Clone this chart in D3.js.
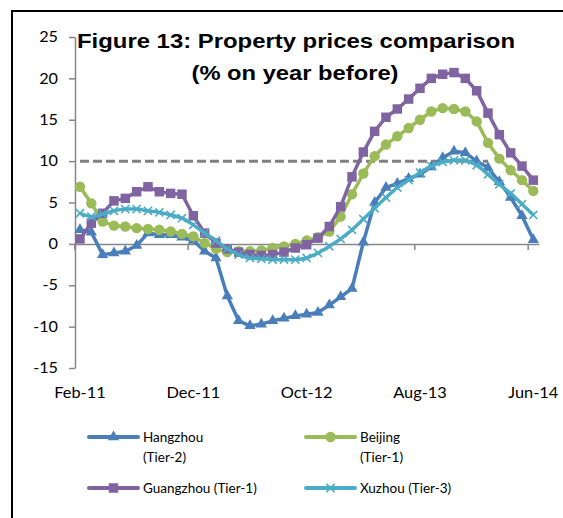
<!DOCTYPE html>
<html>
<head>
<meta charset="utf-8">
<script src="https://cdn.jsdelivr.net/npm/d3@7"></script>
<style>
  body { margin: 0; background: #fff; }
  svg { display: block; }
</style>
</head>
<body>
<div id="chart"></div>
<script>
/* Figure 13: property prices comparison, % on year before (monthly, Feb-11 .. Jun-14) */
const months = ("Feb-11 Mar-11 Apr-11 May-11 Jun-11 Jul-11 Aug-11 Sep-11 Oct-11 Nov-11 Dec-11 " +
  "Jan-12 Feb-12 Mar-12 Apr-12 May-12 Jun-12 Jul-12 Aug-12 Sep-12 Oct-12 Nov-12 Dec-12 " +
  "Jan-13 Feb-13 Mar-13 Apr-13 May-13 Jun-13 Jul-13 Aug-13 Sep-13 Oct-13 Nov-13 Dec-13 " +
  "Jan-14 Feb-14 Mar-14 Apr-14 May-14 Jun-14").split(" ");
const tickLabels = ["Feb-11", "Dec-11", "Oct-12", "Aug-13", "Jun-14"];
const yTicks = [-15, -10, -5, 0, 5, 10, 15, 20, 25];

const hangzhou = [1.7, 1.4, -1.3, -1.1, -0.9, -0.2, 1.3, 1.1, 1.1, 0.8, 0.4,
  -0.9, -1.7, -6.3, -9.3, -9.9, -9.7, -9.3, -9.0, -8.7, -8.5, -8.3, -7.4,
  -6.4, -5.4, 0.2, 5.0, 6.8, 7.3, 7.9, 8.4, 9.3, 10.4, 11.2, 11.0,
  10.0, 9.2, 7.5, 5.6, 3.4, 0.5];
const beijing = [6.9, 4.9, 2.7, 2.2, 2.1, 1.9, 1.8, 1.7, 1.5, 1.2, 0.9,
  0.1, -0.6, -1.0, -0.9, -0.9, -0.8, -0.5, -0.3, 0.0, 0.4, 0.8, 1.5,
  3.3, 6.0, 8.5, 10.6, 12.0, 13.0, 14.0, 15.0, 16.0, 16.4, 16.3, 16.0,
  14.8, 12.2, 10.3, 8.9, 7.7, 6.4];
const guangzhou = [0.6, 2.5, 3.7, 5.2, 5.5, 6.3, 6.9, 6.3, 6.1, 6.0, 3.4,
  1.3, 0.1, -0.6, -1.0, -1.3, -1.4, -1.3, -1.0, -0.5, -0.1, 0.7, 2.1,
  4.5, 8.1, 11.1, 13.6, 15.3, 16.3, 17.5, 18.8, 20.0, 20.5, 20.7, 20.0,
  18.5, 15.8, 13.2, 11.0, 9.4, 7.7];
const xuzhou = [3.7, 3.3, 3.6, 4.0, 4.2, 4.2, 4.0, 3.8, 3.5, 3.1, 2.3,
  1.3, 0.4, -0.6, -1.3, -1.7, -1.8, -1.9, -1.9, -1.9, -1.7, -1.1, -0.3,
  0.6, 1.7, 3.0, 4.3, 5.6, 6.8, 7.7, 8.6, 9.4, 9.9, 10.1, 10.1,
  9.5, 8.4, 7.2, 6.1, 4.8, 3.5];
const threshold = 10;          // dashed reference line
const thresholdEnd = "Feb-14"; // last month of the dashed line

const seriesNames = ["Hangzhou\n(Tier-2)", "Beijing\n(Tier-1)", "Guangzhou (Tier-1)", "Xuzhou (Tier-3)"];

(function () {
  const W = 563, H = 518;
  const FONT = "Lato, 'Open Sans', sans-serif";
  const svg = d3.select("#chart").append("svg").attr("width", W).attr("height", H);

  // widen glyphs a bit: the source fonts run wider than the local ones
  const stretch = (sel, k) => sel.each(function () {
    const w = this.getComputedTextLength();
    d3.select(this).attr("textLength", w * k).attr("lengthAdjust", "spacingAndGlyphs");
  });

  // frame (runs off the right and bottom edges like the source)
  svg.append("rect").attr("x", 12).attr("y", 11).attr("width", 560).attr("height", 520)
    .attr("fill", "none").attr("stroke", "#000").attr("stroke-width", 2);

  const n = months.length;
  const band = d3.scaleBand().domain(months).range([74.3, 539]).paddingInner(0).paddingOuter(0);
  const xc = m => band(m) + band.bandwidth() / 2;
  const y = d3.scaleLinear().domain([-15, 25]).range([368, 37]);

  // axes
  const yAxis = svg.append("g").attr("transform", "translate(75,0)")
    .call(d3.axisLeft(y).tickValues(yTicks).tickFormat(d => String(d))
      .tickSize(6).tickSizeOuter(0).tickPadding(11));
  yAxis.select(".domain").attr("stroke", "#868686").attr("stroke-width", 1.5);
  yAxis.selectAll(".tick line").attr("stroke", "#868686").attr("stroke-width", 1.5);
  yAxis.selectAll("text").attr("font-family", FONT).attr("font-size", 14.5).attr("fill", "#000")
    .call(stretch, 1.12);

  const xEdge = d3.scaleLinear().domain([0, n]).range(band.range());
  const xAxis = svg.append("g").attr("transform", `translate(0,${y(0)})`)
    .call(d3.axisBottom(xEdge).tickValues(tickLabels.map(t => months.indexOf(t)))
      .tickSize(6).tickSizeOuter(0).tickFormat(""));
  xAxis.select(".domain").attr("stroke", "#868686").attr("stroke-width", 1.5);
  xAxis.selectAll(".tick line").attr("stroke", "#868686").attr("stroke-width", 1.5);

  svg.append("g").selectAll("text").data(tickLabels).join("text")
    .attr("x", d => xc(d)).attr("y", 398).attr("text-anchor", "middle")
    .attr("font-family", FONT).attr("font-size", 14.5).attr("fill", "#000")
    .text(d => d)
    .call(stretch, 1.13);

  // dashed 10% line
  const dashMonths = months.slice(0, months.indexOf(thresholdEnd) + 1);
  svg.append("path")
    .attr("d", d3.line().x(m => xc(m)).y(() => y(threshold))(dashMonths))
    .attr("fill", "none").attr("stroke", "#808080").attr("stroke-width", 3)
    .attr("stroke-dasharray", "9,4");

  const series = [
    { values: hangzhou, color: "#4A7EBB", sym: d3.symbolTriangle, size: 55, curve: d3.curveLinear },
    { values: beijing, color: "#9BBB59", sym: d3.symbolCircle, size: 85, curve: d3.curveLinear },
    { values: guangzhou, color: "#8064A2", sym: d3.symbolSquare, size: 90, curve: d3.curveLinear },
    { values: xuzhou, color: "#4BACC6", sym: d3.symbolX, size: 45, curve: d3.curveCatmullRom, stroke: true }
  ];

  const markerAttrs = (sel, s) => sel
    .attr("fill", s.stroke ? "none" : s.color)
    .attr("stroke", s.stroke ? s.color : "none")
    .attr("stroke-width", s.stroke ? 1.6 : 0);

  series.forEach(s => {
    const g = svg.append("g");
    g.append("path")
      .attr("d", d3.line().x((v, i) => xc(months[i])).y(v => y(v)).curve(s.curve)(s.values))
      .attr("fill", "none").attr("stroke", s.color).attr("stroke-width", 3.5)
      .attr("stroke-linejoin", "round");
    g.selectAll("path.mk").data(s.values).join("path").attr("class", "mk")
      .attr("transform", (v, i) => `translate(${xc(months[i])},${y(v)})`)
      .attr("d", d3.symbol(s.sym, s.size))
      .call(markerAttrs, s);
  });

  // title
  const title = svg.append("text").attr("text-anchor", "middle")
    .attr("font-family", "'Liberation Sans', Arial, sans-serif").attr("font-weight", "bold")
    .attr("font-size", 21).attr("fill", "#000");
  title.append("tspan").attr("x", 296).attr("y", 48).text("Figure 13: Property prices comparison")
    .attr("textLength", 438).attr("lengthAdjust", "spacingAndGlyphs");
  title.append("tspan").attr("x", 295).attr("y", 80).text("(% on year before)")
    .attr("textLength", 207).attr("lengthAdjust", "spacingAndGlyphs");

  // legend
  const legendPos = [[89, 437], [306, 437], [89, 488], [306, 488]];
  series.forEach((s, k) => {
    const [lx, ly] = legendPos[k];
    const g = svg.append("g").attr("transform", `translate(${lx},${ly})`);
    g.append("line").attr("x1", 0).attr("x2", 49).attr("stroke", s.color)
      .attr("stroke-width", 4).attr("stroke-linecap", "round");
    g.append("path").attr("transform", "translate(24.5,0)")
      .attr("d", d3.symbol(s.sym, s.size)).call(markerAttrs, s);
    const t = g.append("text").attr("font-family", FONT).attr("font-size", 13.5).attr("fill", "#000");
    seriesNames[k].split("\n").forEach((line, j) =>
      t.append("tspan").attr("x", 54).attr("y", 5 + j * 20).text(line));
  });
})();
</script>
</body>
</html>
